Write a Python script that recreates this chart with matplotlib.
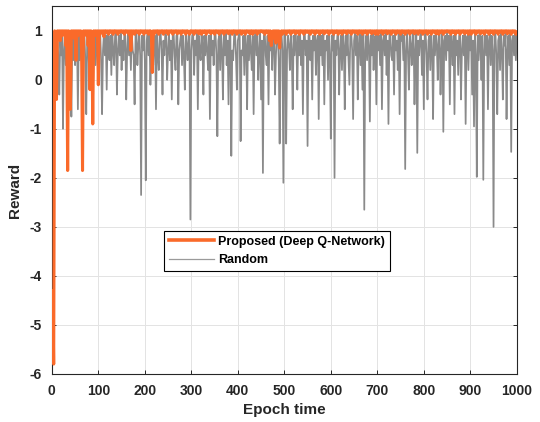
import numpy as np
import matplotlib
matplotlib.use("Agg")
import matplotlib.pyplot as plt

plt.rcParams['font.family'] = ['Liberation Sans', 'DejaVu Sans']
plt.rcParams['axes.unicode_minus'] = False

# epochs sampled every 2 steps (2 .. 1000)
epochs = np.arange(1, 501) * 2

proposed = [
    -4.3, -5.8, 1, 0.9, -0.4, 1, 0.95, 1, 0.8, 1, 0.9, 1, 0.95, 1, 0.7, 1, -1.85, 1, 0.9, -0.6, 1, 0.95, 1, 0.85, 1,
    0.4, 1, 0.9, 1, 0.95, 1, 0.6, -1.85, 1, 0.9, 1, 0.95, 1, 0.7, 1, -0.2, 1, 0.95, -0.9, 1, 0.9, 1, 0.95, 1, -0.1,
    1, 0.93, 1, 0.97, 1, 0.88, 1, 1, 0.97, 1, 0.93, 1, 1, 0.97, 1, 0.93, 1, 1, 0.97, 1, 0.93, 1, 0.97, 1, 1,
    0.97, 1, 0.93, 1, 1, 0.97, 1, 0.93, 1, 0.6, 1, 0.97, 1, 0.93, 1, 1, 0.97, 1, 0.93, 1, 1, 0.97, 1, 0.93, 1,
    1, 0.97, 1, 0.93, 1, 1, 0.97, 0.15, 1, 0.93, 1, 0.97, 1, 1, 0.93, 1, 0.97, 1, 1, 0.93, 1, 0.97, 1, 1, 0.93,
    1, 0.97, 1, 1, 0.93, 1, 0.97, 1, 1, 0.94, 1, 0.97, 1, 0.93, 1, 1, 0.97, 1, 0.93, 1, 1, 0.97, 0.93, 1, 1,
    0.97, 1, 0.93, 1, 1, 0.97, 1, 0.94, 1, 1, 0.93, 1, 0.97, 1, 1, 0.93, 1, 0.97, 1, 1, 0.94, 1, 0.97, 1, 0.93,
    1, 1, 0.97, 1, 0.93, 1, 0.97, 1, 1, 0.93, 1, 0.97, 1, 1, 0.94, 1, 0.97, 1, 0.93, 1, 1, 0.97, 1, 0.93, 1,
    0.97, 1, 1, 0.93, 1, 0.97, 1, 0.93, 1, 1, 0.97, 1, 0.94, 1, 1, 0.93, 1, 0.97, 1, 1, 0.93, 1, 0.97, 1, 1,
    1, 0.97, 1, 0.93, 1, 1, 0.97, 1, 0.8, 1, 0.7, 0.9, 1, 0.85, 1, 0.75, 1, 0.9, 1, 0.65, 0.95, 1, 0.93, 1, 0.97,
    1, 0.93, 1, 0.97, 1, 1, 0.93, 1, 0.97, 1, 1, 0.94, 1, 0.97, 1, 0.93, 1, 1, 0.97, 1, 0.93, 1, 1, 0.97, 1,
    0.97, 1, 0.93, 1, 1, 0.97, 1, 0.93, 1, 1, 0.97, 1, 0.93, 1, 0.97, 1, 1, 0.94, 1, 0.97, 1, 1, 0.93, 1, 0.97,
    1, 1, 0.93, 1, 0.97, 1, 1, 0.93, 1, 0.97, 1, 0.93, 1, 1, 0.97, 1, 0.94, 1, 1, 0.97, 1, 0.93, 1, 1, 0.97,
    1, 0.97, 1, 0.93, 1, 1, 0.97, 1, 0.93, 1, 0.97, 1, 1, 0.93, 1, 0.97, 1, 1, 0.94, 1, 0.97, 1, 0.93, 1, 1,
    0.93, 1, 0.97, 1, 1, 0.93, 1, 0.97, 1, 1, 0.94, 1, 0.97, 1, 0.93, 1, 1, 0.97, 1, 0.93, 1, 1, 0.97, 1, 0.93,
    1, 1, 0.97, 1, 0.93, 1, 0.97, 1, 1, 0.93, 1, 0.97, 1, 1, 0.94, 1, 0.97, 1, 0.93, 1, 1, 0.97, 1, 0.93, 1,
    0.97, 1, 1, 0.93, 1, 0.97, 1, 0.93, 1, 1, 0.97, 1, 0.94, 1, 1, 0.93, 1, 0.97, 1, 1, 0.93, 1, 0.97, 1, 1,
    1, 0.97, 1, 0.93, 1, 1, 0.97, 1, 0.93, 1, 0.97, 1, 1, 0.93, 1, 0.97, 1, 1, 0.94, 1, 0.97, 1, 0.93, 1, 1,
    0.93, 1, 0.97, 1, 1, 0.93, 1, 0.97, 1, 1, 0.94, 1, 0.97, 1, 0.93, 1, 1, 0.97, 1, 0.93, 1, 1, 0.97, 1, 0.93,
    1, 1, 0.97, 1, 0.93, 1, 0.97, 1, 1, 0.93, 1, 0.97, 1, 1, 0.94, 1, 0.97, 1, 0.93, 1, 1, 0.97, 1, 0.93, 0.97,
]

random_policy = [
    0.6, 0.95, 0.2, 0.9, 0.5, 0.95, 0.4, -0.3, 0.9, 0.5, 0.9, -1.0, 0.6, 0.95, 0.3, 0.9, 0.5, 0.1, 0.95, 0.6, -0.75, 0.9, 0.4, 0.95, 0.3,
    0.8, 0.95, -0.6, 0.9, 0.4, 0.95, 0.5, -0.2, 0.9, 0.95, 0.4, -0.7, 0.8, 0.95, 0.2, 0.9, 0.5, 0.95, -0.5, 0.6, 0.9, 0.3, 0.95, 0.6, 0.0,
    0.9, 0.95, 0.4, -0.7, 0.6, 0.95, 0.5, 0.9, -0.2, 0.95, 0.6, 0.4, 0.9, 0.1, 0.95, 0.6, 0.3, 0.9, 0.95, -0.3, 0.6, 0.9, 0.5, 0.95, 0.2,
    0.8, 0.4, 0.95, 0.9, -0.4, 0.6, 0.95, 0.5, 0.9, 0.2, 0.95, 0.6, 0.5, -0.5, 0.9, 0.95, 0.3, 0.7, 0.95, 0.5, -2.35, 0.9, 0.6, 0.95, 0.4,
    -2.05, 0.8, 0.95, 0.5, 0.9, -0.1, 0.6, 0.95, 0.3, 0.8, 0.9, -0.6, 0.95, 0.5, 0.2, 0.9, 0.95, 0.6, -0.3, 0.8, 0.5, 0.95, 0.9, 0.0, 0.6,
    0.95, 0.4, 0.8, -0.4, 0.9, 0.95, 0.5, 0.2, 0.9, 0.95, -0.5, 0.6, 0.8, 0.95, 0.3, 0.9, 0.5, -0.2, 0.95, 0.7, 0.4, 0.9, 0.95, -2.85, 0.6,
    0.9, 0.95, 0.1, 0.8, 0.5, 0.95, -0.6, 0.9, 0.6, 0.4, 0.95, 0.7, -0.3, 0.9, 0.5, 0.95, 0.6, 0.2, 0.9, -0.8, 0.95, 0.5, 0.8, 0.3, 0.9,
    0.95, 0.5, -1.15, 0.8, 0.9, 0.2, 0.95, 0.6, -0.4, 0.9, 0.5, 0.95, 0.3, 0.8, -0.5, 0.9, 0.95, -1.55, 0.6, 0.4, 0.9, 0.95, 0.5, -0.2, 0.8,
    0.9, 0.95, -1.25, 0.6, 0.5, 0.9, 0.1, 0.95, 0.7, -0.6, 0.9, 0.4, 0.95, 0.6, 0.2, 0.9, -0.7, 0.8, 0.95, 0.5, 0.9, 0.0, 0.6, 0.95, -0.4,
    0.8, -1.9, 0.9, 0.95, 0.5, 0.3, 0.9, -0.5, 0.95, 0.6, 0.8, 0.2, 0.9, 0.95, -0.3, 0.5, 0.9, 0.95, 0.4, -1.3, 0.8, 0.95, 0.6, -2.1, 0.9,
    0.95, -1.3, 0.6, 0.9, 0.7, 0.2, 0.95, 0.6, -0.6, 0.9, 0.5, 0.95, 0.7, -0.2, 0.9, 0.5, 0.95, 0.3, 0.8, -0.7, 0.9, 0.95, 0.5, 0.8, -1.35,
    0.9, 0.95, 0.4, 0.8, -0.4, 0.9, 0.6, 0.95, 0.1, 0.8, 0.9, -0.8, 0.95, 0.5, 0.9, 0.3, 0.95, -0.5, 0.8, 0.6, 0.9, 0.0, 0.95, 0.5, -1.2,
    0.9, 0.6, 0.95, -2.0, 0.8, 0.5, 0.9, 0.95, -0.3, 0.6, 0.9, 0.2, 0.95, 0.7, -0.6, 0.9, 0.5, 0.95, 0.4, -0.1, 0.9, 0.95, 0.6, -0.8, 0.8,
    0.95, 0.5, 0.9, -0.4, 0.7, 0.95, 0.3, 0.9, -0.2, 0.95, -2.65, 0.6, 0.9, 0.4, 0.95, 0.7, -0.85, 0.9, 0.5, 0.95, 0.2, 0.8, 0.9, -0.5, 0.95,
    0.6, 0.9, 0.3, 0.95, -0.6, 0.8, 0.9, 0.5, 0.95, 0.1, 0.8, -0.9, 0.9, 0.95, 0.5, 0.4, 0.9, -0.3, 0.95, 0.6, 0.8, 0.2, 0.95, -0.7, 0.9,
    0.8, 0.95, 0.4, 0.9, -1.82, 0.6, 0.95, 0.5, -0.2, 0.9, 0.7, 0.3, 0.95, 0.9, -0.5, 0.6, 0.95, -1.49, 0.8, 0.5, 0.9, 0.95, 0.1, 0.8, -0.6,
    0.9, 0.95, 0.5, -0.4, 0.8, 0.9, 0.2, 0.95, 0.6, -0.8, 0.9, 0.5, 0.95, 0.7, 0.0, 0.9, 0.95, -0.3, 0.6, 0.95, -1.06, 0.8, 0.9, 0.4, 0.95,
    0.6, 0.9, -0.5, 0.95, 0.7, 0.3, 0.9, -0.7, 0.95, 0.5, 0.8, 0.1, 0.9, 0.95, -0.4, 0.6, 0.9, 0.5, 0.95, -0.9, 0.8, 0.9, 0.2, 0.95, 0.6,
    0.9, -0.3, 0.8, -0.95, 0.95, 0.5, -1.98, 0.9, 0.4, 0.95, 0.7, 0.0, 0.9, -2.04, 0.6, 0.95, 0.5, 0.9, -0.6, 0.8, 0.95, 0.3, 0.9, 0.6, -3.0,
    0.9, 0.95, 0.5, -0.7, 0.8, 0.9, 0.2, 0.95, 0.6, -0.4, 0.9, 0.7, 0.95, -0.8, 0.6, 0.9, 0.3, 0.95, -1.47, 0.8, 0.9, 0.5, 0.95, 0.4, 0.9,
]

x_ticks = list(range(0, 1001, 100))
y_ticks = list(range(-6, 2))

fig = plt.figure(figsize=(5.4, 4.22), dpi=100)
ax = fig.add_axes([0.096, 0.114, 0.861, 0.871])

ax.plot(epochs, random_policy, color='#8a8a8a', lw=1.25, label='Random', zorder=2)
ax.plot(epochs, proposed, color='#FA6A2A', lw=2.2, label='Proposed (Deep Q-Network)', zorder=3)

ax.set_xlim(0, 1000)
ax.set_ylim(-6, 1.5)
ax.set_xticks(x_ticks)
ax.set_yticks(y_ticks)
ax.grid(True, color='#e3e3e3', lw=0.7)
ax.set_axisbelow(True)
ax.tick_params(direction='in', length=3, width=0.7, top=True, right=True,
               labelsize=10, colors='#262626')
ax.tick_params(axis='x', pad=7)
ax.tick_params(axis='y', pad=7)
for lab in ax.get_xticklabels() + ax.get_yticklabels():
    lab.set_fontweight('bold')
for s in ax.spines.values():
    s.set_color('#262626')
    s.set_linewidth(0.8)

ax.set_xlabel('Epoch time', fontsize=11, fontweight='bold', color='#262626', labelpad=4)
ax.set_ylabel('Reward', fontsize=11, fontweight='bold', color='#262626', labelpad=6)

handles, labels = ax.get_legend_handles_labels()
order = [1, 0]
leg = ax.legend([handles[i] for i in order], [labels[i] for i in order],
                loc='center', bbox_to_anchor=(0.484, 0.335), fancybox=False,
                edgecolor='black', framealpha=1, prop={'weight': 'bold', 'size': 9},
                handlelength=3.6, handletextpad=0.3, borderpad=0.4, labelspacing=0.5,
                borderaxespad=0)
leg.get_frame().set_linewidth(0.8)
leg.get_lines()[0].set_linewidth(2.6)
leg.get_lines()[1].set_linewidth(0.9)
leg.get_lines()[1].set_color('#9a9a9a')

fig.savefig('out.png', dpi=100)
